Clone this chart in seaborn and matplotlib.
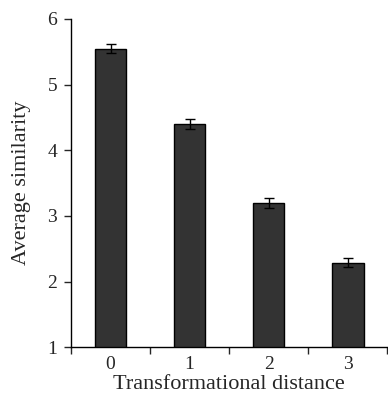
import matplotlib
matplotlib.use("Agg")
import matplotlib.pyplot as plt
import numpy as np
import pandas as pd
import seaborn as sns

distances = ["0", "1", "2", "3"]
similarity = [5.55, 4.40, 3.20, 2.29]
errors = [0.07, 0.075, 0.08, 0.065]
y_ticks = [1, 2, 3, 4, 5, 6]

sns.set_style("ticks")
plt.rcParams["font.family"] = ["Liberation Serif", "DejaVu Serif"]

df = pd.DataFrame({"distance": distances, "similarity": similarity})

fig = plt.figure(figsize=(3.88, 3.93), dpi=100)
ax = fig.add_axes([0.183, 0.1163, 0.815, 0.8354])

sns.barplot(data=df, x="distance", y="similarity", color="#333333",
            saturation=1, width=0.4, edgecolor="black", linewidth=1,
            errorbar=None, ax=ax)
ax.errorbar(np.arange(len(distances)), similarity, yerr=errors, fmt="none",
            ecolor="black", elinewidth=1, capsize=3.5, capthick=1)

ax.set_ylim(1, 6)
ax.set_xlim(-0.5, 3.5)
ax.set_yticks(y_ticks)
ax.set_xticks(np.arange(-0.5, 4, 1), minor=True)
ax.tick_params(axis="x", which="major", length=0, labelsize=14, pad=6)
ax.tick_params(axis="x", which="minor", length=5, width=1, direction="out")
ax.tick_params(axis="y", length=5, width=1, labelsize=14, pad=5)
ax.set_xlabel("Transformational distance", fontsize=16, labelpad=2)
ax.set_ylabel("Average similarity", fontsize=16, labelpad=12)
sns.despine(ax=ax)
for s in ["left", "bottom"]:
    ax.spines[s].set_linewidth(1)
    ax.spines[s].set_color("black")

fig.savefig("out.png", dpi=100)
